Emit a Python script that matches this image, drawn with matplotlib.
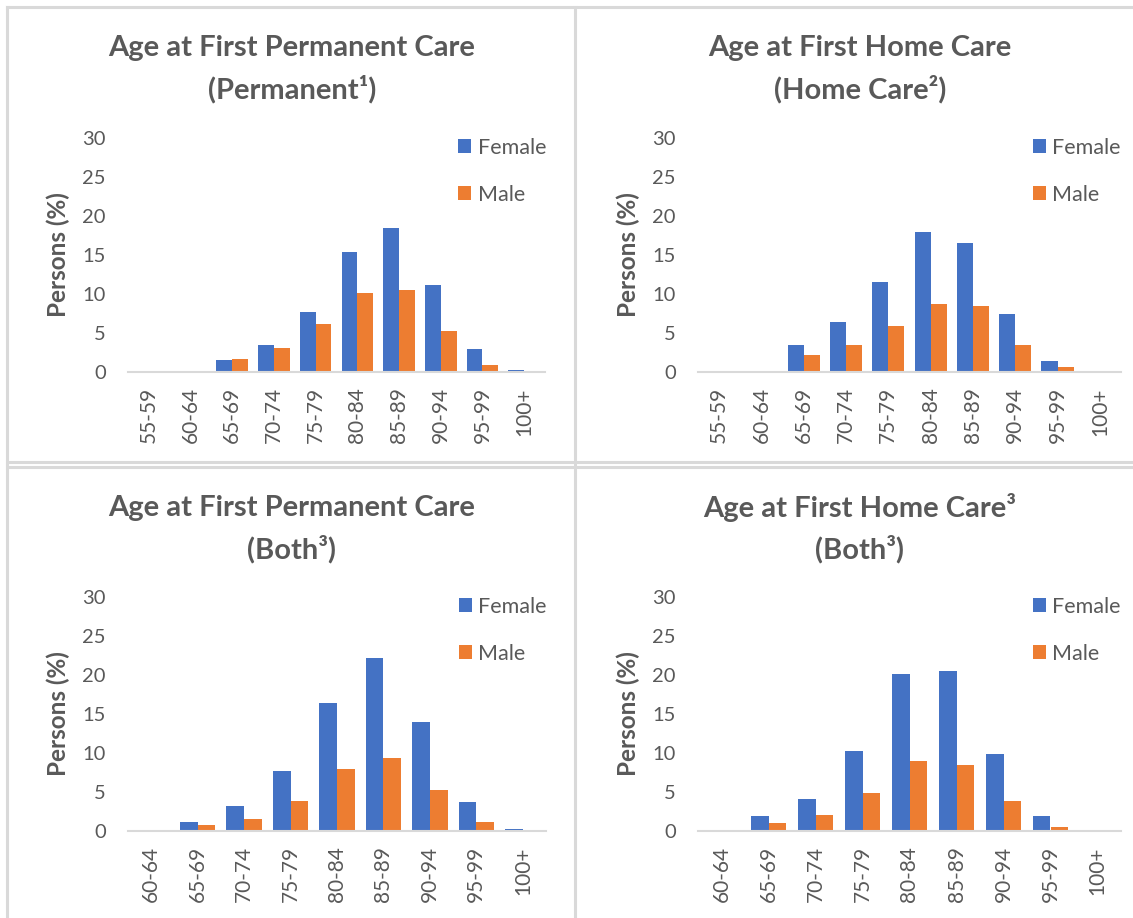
import matplotlib
matplotlib.use("Agg")
import matplotlib.pyplot as plt
from matplotlib.lines import Line2D
import numpy as np

plt.rcParams['font.family'] = ['Lato', 'DejaVu Sans']

ages_a = ["55-59", "60-64", "65-69", "70-74", "75-79", "80-84", "85-89", "90-94", "95-99", "100+"]
ages_b = ["60-64", "65-69", "70-74", "75-79", "80-84", "85-89", "90-94", "95-99", "100+"]

perm_female = [0.0, 0.05, 1.5, 3.4, 7.7, 15.4, 18.5, 11.1, 2.9, 0.2]
perm_male = [0.0, 0.05, 1.7, 3.1, 6.2, 10.1, 10.5, 5.2, 0.9, 0.0]

home_female = [0.0, 0.15, 3.5, 6.4, 11.6, 17.9, 16.6, 7.5, 1.45, 0.15]
home_male = [0.0, 0.15, 2.2, 3.4, 5.9, 8.7, 8.5, 3.4, 0.65, 0.05]

both_perm_female = [0.0, 1.1, 3.25, 7.7, 16.4, 22.2, 14.0, 3.7, 0.3]
both_perm_male = [0.0, 0.8, 1.5, 3.8, 8.0, 9.3, 5.3, 1.2, 0.0]

both_home_female = [0.0, 1.9, 4.1, 10.3, 20.1, 20.55, 9.9, 1.9, 0.0]
both_home_male = [0.0, 1.0, 2.1, 4.9, 9.0, 8.4, 3.9, 0.55, 0.0]

titles = [
    ("Age at First Permanent Care", "(Permanent\u00b9)"),
    ("Age at First Home Care", "(Home Care\u00b2)"),
    ("Age at First Permanent Care", "(Both\u00b3)"),
    ("Age at First Home Care\u00b3", "(Both\u00b3)"),
]

BLUE = "#4472C4"
ORANGE = "#ED7D31"
GRAY = "#595959"
LINE = "#D9D9D9"

W, H = 1133, 918
fig = plt.figure(figsize=(W / 100, H / 100), dpi=100)

def fx(x):
    return x / W

def fy(y):
    return 1 - y / H

# panel borders
for (x0, y0, x1, y1) in [(7, 7, W, 7), (7, 7, 7, H), (575, 7, 575, H), (7, 462, W, 462), (7, 467, W, 467)]:
    fig.add_artist(Line2D([fx(x0), fx(x1)], [fy(y0), fy(y1)], color=LINE, lw=2.2, transform=fig.transFigure))

panels = [
    (ages_a, perm_female, perm_male, (128, 545, 138, 372), titles[0], (292, 48, 89)),
    (ages_a, home_female, home_male, (698, 1121, 138, 372), titles[1], (860, 48, 89)),
    (ages_b, both_perm_female, both_perm_male, (128, 546, 597, 831), titles[2], (292, 508, 549)),
    (ages_b, both_home_female, both_home_male, (698, 1121, 597, 831), titles[3], (860, 507, 549)),
]

for cats, fem, mal, (xl, xr, yt, yb), (t1, t2), (tx, ty1, ty2) in panels:
    ax = fig.add_axes([fx(xl), fy(yb), fx(xr - xl), (yb - yt) / H])
    n = len(cats)
    x = np.arange(n)
    bw = 0.38
    ax.bar(x - bw / 2, fem, bw, color=BLUE, label="Female", zorder=2)
    ax.bar(x + bw / 2, mal, bw, color=ORANGE, label="Male", zorder=2)
    ax.set_xlim(-0.5, n - 0.5)
    ax.set_ylim(0, 30)
    ax.set_yticks([0, 5, 10, 15, 20, 25, 30])
    ax.set_xticks(x)
    ax.set_xticklabels(cats, rotation=90)
    for s in ["top", "right", "left"]:
        ax.spines[s].set_visible(False)
    ax.spines["bottom"].set_color(LINE)
    ax.spines["bottom"].set_linewidth(1.5)
    ax.tick_params(axis="both", length=0, colors=GRAY)
    ax.tick_params(axis="y", pad=16, labelsize=14.5)
    ax.tick_params(axis="x", pad=11, labelsize=15)
    ax.set_ylabel("Persons (%)", fontsize=17.5, fontweight="bold", color=GRAY, labelpad=9)
    ax.legend(loc="upper left", bbox_to_anchor=(0.791, 1.0), frameon=False,
              fontsize=15.5, labelcolor=GRAY, handlelength=0.62, handleheight=0.62,
              handletextpad=0.3, labelspacing=1.25, borderaxespad=0, borderpad=0)
    fig.text(fx(tx), fy(ty1), t1, ha="center", va="center", fontsize=21, fontweight="bold", color=GRAY)
    fig.text(fx(tx), fy(ty2), t2, ha="center", va="center", fontsize=21, fontweight="bold", color=GRAY)

fig.savefig("out.png", dpi=100)
